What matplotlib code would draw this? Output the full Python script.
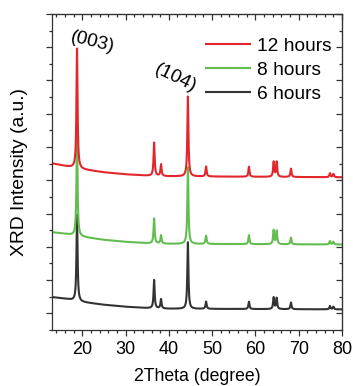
import numpy as np
import matplotlib; matplotlib.use("Agg")
import matplotlib.pyplot as plt
from matplotlib.ticker import MultipleLocator

plt.rcParams.update({"font.family": ["Liberation Sans", "DejaVu Sans"], "font.size": 11})

RED = "#e3262b"; GREEN = "#62bd4f"; BLACK = "#333333"

# peak positions (2theta) and heights
peak_pos = [18.8, 36.6, 38.2, 44.4, 48.6, 58.5, 64.2, 64.9, 68.2, 77.2, 78.0]
amp_12h = [3.6, 1.0, 0.35, 2.4, 0.30, 0.30, 0.45, 0.45, 0.25, 0.12, 0.10]
amp_8h = [3.0, 0.75, 0.25, 2.3, 0.25, 0.27, 0.42, 0.40, 0.20, 0.10, 0.08]
amp_6h = [2.6, 0.85, 0.28, 2.0, 0.22, 0.22, 0.35, 0.33, 0.20, 0.10, 0.08]

# background level read at a few angles
base_x = [13, 16, 20, 25, 30, 35, 40, 80]
base_12h = [4.51, 4.43, 4.33, 4.24, 4.18, 4.14, 4.12, 4.09]
base_8h = [2.44, 2.39, 2.30, 2.21, 2.15, 2.11, 2.09, 2.07]
base_6h = [0.49, 0.44, 0.34, 0.26, 0.20, 0.16, 0.14, 0.12]

labels = ["6 hours", "8 hours", "12 hours"]
colors = [BLACK, GREEN, RED]

tt = np.arange(13, 80.01, 0.02)


def trace(base, amps, w=0.15):
    y = np.interp(tt, base_x, base)
    for p, a in zip(peak_pos, amps):
        y = y + a / (1 + ((tt - p) / w) ** 2)
    return y


fig = plt.figure(figsize=(3.53, 3.86), dpi=100)
ax = fig.add_axes([0.147, 0.145, 0.822, 0.819])

lines = []
for base, amps, c, lab in zip([base_6h, base_8h, base_12h], [amp_6h, amp_8h, amp_12h], colors, labels):
    l, = ax.plot(tt, trace(base, amps), color=c, lw=1.5, label=lab)
    lines.append(l)

ax.set_xlim(13, 80); ax.set_ylim(-0.5, 9)
ax.xaxis.set_major_locator(MultipleLocator(10)); ax.xaxis.set_minor_locator(MultipleLocator(2))
ax.yaxis.set_major_locator(MultipleLocator(1)); ax.yaxis.set_minor_locator(MultipleLocator(0.5))
ax.tick_params(which="both", direction="out", width=0.9, color="#333333", labelsize=13, pad=4)
ax.tick_params(which="major", length=4); ax.tick_params(which="minor", length=2.5)
ax.tick_params(axis="y", labelleft=False)
for s in ax.spines.values():
    s.set_linewidth(0.9); s.set_color("#333333")
# inward mirrored ticks on top/right
ax2 = ax.secondary_xaxis("top"); ax2.xaxis.set_major_locator(MultipleLocator(10)); ax2.xaxis.set_minor_locator(MultipleLocator(2))
ax2.tick_params(which="both", direction="in", labeltop=False, width=0.9, color="#333333")
ax2.tick_params(which="major", length=4); ax2.tick_params(which="minor", length=2.5)
ax3 = ax.secondary_yaxis("right"); ax3.yaxis.set_major_locator(MultipleLocator(1)); ax3.yaxis.set_minor_locator(MultipleLocator(0.5))
ax3.tick_params(which="both", direction="in", labelright=False, width=0.9, color="#333333")
ax3.tick_params(which="major", length=4); ax3.tick_params(which="minor", length=2.5)

ax.set_xlabel("2Theta (degree)", fontsize=12.7, labelpad=7)
ax.set_ylabel("XRD Intensity (a.u.)", fontsize=13.9, labelpad=11)

ax.text(22.4, 8.15, "(003)", fontsize=13.7, rotation=-14, ha="center", va="center")
ax.text(41.6, 7.06, "(104)", fontsize=13.7, rotation=-26, ha="center", va="center")

ax.legend(lines[::-1], labels[::-1], loc="upper left", bbox_to_anchor=(0.532, 0.925), frameon=False,
          fontsize=13.8, handlelength=2.3, handletextpad=0.35, labelspacing=0.33, borderpad=0, borderaxespad=0)

fig.savefig("out.png", dpi=100)
